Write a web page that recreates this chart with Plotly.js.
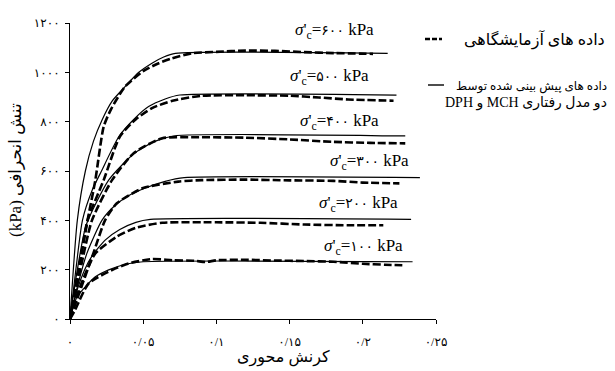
<!DOCTYPE html>
<html>
<head>
<meta charset="utf-8">
<script src="https://cdn.plot.ly/plotly-3.0.1.min.js"></script>
<style>html,body{margin:0;padding:0;background:#fff;}#chart{width:615px;height:371px;}</style>
</head>
<body>
<div id="chart"></div>
<script>
// ---- data (axial strain, deviatoric stress kPa) ----
const xTickVals = [0, 0.05, 0.1, 0.15, 0.2, 0.25];
const xTickText = ["۰", "۰/۰۵", "۰/۱", "۰/۱۵", "۰/۲", "۰/۲۵"];
const yTickVals = [0, 200, 400, 600, 800, 1000, 1200];
const yTickText = ["۰", "۲۰۰", "۴۰۰", "۶۰۰", "۸۰۰", "۱۰۰۰", "۱۲۰۰"];

const pred600x = [0, 0.005, 0.0105, 0.016, 0.0219, 0.029, 0.0376, 0.047, 0.056, 0.064, 0.072, 0.217];
const pred600y = [0, 400, 600, 720, 807, 885, 942, 1000, 1037, 1062, 1077, 1077];
const exp600x = [0, 0.006, 0.012, 0.0173, 0.023, 0.028, 0.0376, 0.05, 0.0606, 0.0697, 0.083, 0.1, 0.12, 0.14, 0.16, 0.18, 0.207];
const exp600y = [0, 200, 400, 563, 780, 850, 942, 1005, 1037, 1057, 1077, 1083, 1088, 1087, 1082, 1078, 1075];

const pred500x = [0, 0.004, 0.0085, 0.015, 0.0215, 0.0333, 0.0437, 0.0537, 0.065, 0.075, 0.223];
const pred500y = [0, 200, 400, 520, 600, 739, 810, 861, 892, 908, 908];
const exp500x = [0, 0.006, 0.012, 0.023, 0.034, 0.045, 0.056, 0.07, 0.09, 0.12, 0.15, 0.17, 0.19, 0.221];
const exp500y = [0, 200, 400, 563, 739, 810, 855, 885, 905, 907, 905, 898, 890, 885];

const pred400x = [0, 0.005, 0.011, 0.0264, 0.044, 0.058, 0.0708, 0.229];
const pred400y = [0, 200, 380, 563, 672, 720, 742, 742];
const exp400x = [0, 0.007, 0.015, 0.0287, 0.0435, 0.063, 0.085, 0.12, 0.15, 0.18, 0.205, 0.229];
const exp400y = [0, 200, 400, 563, 672, 733, 737, 735, 728, 718, 714, 712];

const pred300x = [0, 0.005, 0.0116, 0.0219, 0.0307, 0.04, 0.0515, 0.065, 0.078, 0.239];
const pred300y = [0, 130, 267, 401, 460, 500, 531, 558, 573, 573];
const exp300x = [0, 0.006, 0.016, 0.024, 0.032, 0.05, 0.074, 0.09, 0.12, 0.15, 0.18, 0.2, 0.225];
const exp300y = [0, 100, 267, 401, 469, 531, 557, 563, 565, 562, 560, 553, 550];

const pred200x = [0, 0.005, 0.01, 0.015, 0.024, 0.034, 0.045, 0.0549, 0.233];
const pred200y = [0, 120, 200, 255, 320, 363, 392, 404, 404];
const exp200x = [0, 0.005, 0.0116, 0.0173, 0.032, 0.045, 0.063, 0.1, 0.13, 0.16, 0.19, 0.214];
const exp200y = [0, 100, 199, 266, 334, 370, 390, 392, 390, 383, 380, 380];

const pred100x = [0, 0.0048, 0.012, 0.0173, 0.0264, 0.038, 0.05, 0.234];
const pred100y = [0, 90, 140, 171, 199, 222, 232, 232];
const exp100x = [0, 0.0034, 0.0128, 0.029, 0.04, 0.056, 0.07, 0.085, 0.093, 0.1, 0.12, 0.14, 0.16, 0.18, 0.2, 0.215, 0.227];
const exp100y = [0, 36, 145, 199, 225, 243, 238, 236, 231, 238, 240, 237, 235, 232, 224, 220, 218];

const labels = ["۶۰۰", "۵۰۰", "۴۰۰", "۳۰۰", "۲۰۰", "۱۰۰"];
const labelX = [0.152, 0.149, 0.156, 0.176, 0.169, 0.172];
const labelY = [1168, 981, 799, 636, 466, 292];

const expName = "داده های آزمایشگاهی";
const predName1 = "داده های پیش بینی شده توسط";
const predName2 = "\u202Bدو مدل رفتاری MCH و DPH\u202C";
const xTitle = "کرنش محوری";
const yTitle = "(kPa) تنش انحرافی";

// ---- traces ----
const FONT = "Liberation Serif, Times New Roman, DejaVu Sans, serif";
const preds = [[pred600x,pred600y],[pred500x,pred500y],[pred400x,pred400y],[pred300x,pred300y],[pred200x,pred200y],[pred100x,pred100y]];
const exps = [[exp600x,exp600y],[exp500x,exp500y],[exp400x,exp400y],[exp300x,exp300y],[exp200x,exp200y],[exp100x,exp100y]];
const traces = [];
preds.forEach(p => traces.push({x:p[0], y:p[1], mode:'lines', line:{color:'#000', width:1.2, shape:'spline', smoothing:0.6}, showlegend:false, hoverinfo:'skip'}));
exps.forEach(p => traces.push({x:p[0], y:p[1], mode:'lines', line:{color:'#000', width:2.6, dash:'8px,3px', shape:'spline', smoothing:0.6}, showlegend:false, hoverinfo:'skip'}));

// pixel helpers for layout positions (plot area 70..436 x, 23..319 y)
const L = 70, R = 436, T = 23, B = 319;
const px = v => (v - L) / (R - L);
const py = v => (B - v) / (B - T);

const annotations = labels.map((t, i) => ({
  x: labelX[i], y: labelY[i], xref:'x', yref:'y', xanchor:'left', yanchor:'middle', showarrow:false,
  text: "<i>σ</i>'<sub>c</sub>=<span style=\"font-size:14px\">" + t + "</span> kPa", font:{family:FONT, size:17, color:'#000'}
}));
annotations.push({x:px(283), y:py(357), xref:'paper', yref:'paper', xanchor:'center', yanchor:'middle', showarrow:false, text:xTitle, font:{family:FONT, size:16, color:'#000'}});
annotations.push({x:px(15), y:py(170), xref:'paper', yref:'paper', xanchor:'center', yanchor:'middle', showarrow:false, textangle:-90, text:yTitle, font:{family:FONT, size:17, color:'#000'}});
annotations.push({x:px(607), y:py(40), xref:'paper', yref:'paper', xanchor:'right', yanchor:'middle', showarrow:false, text:expName, font:{family:FONT, size:16, color:'#000'}});
annotations.push({x:px(609), y:py(86), xref:'paper', yref:'paper', xanchor:'right', yanchor:'middle', showarrow:false, text:predName1, font:{family:FONT, size:12, color:'#000'}});
annotations.push({x:px(609), y:py(103), xref:'paper', yref:'paper', xanchor:'right', yanchor:'middle', showarrow:false, text:predName2, font:{family:FONT, size:14, color:'#000'}});

const shapes = [
  {type:'line', xref:'paper', yref:'paper', x0:px(425), x1:px(442), y0:py(39), y1:py(39), line:{color:'#000', width:2.6, dash:'5px,2px'}},
  {type:'line', xref:'paper', yref:'paper', x0:px(428), x1:px(444), y0:py(85), y1:py(85), line:{color:'#000', width:1.4}}
];

const layout = {
  width:615, height:371,
  margin:{l:L, r:615-R, t:T, b:371-B, pad:0},
  paper_bgcolor:'#fff', plot_bgcolor:'#fff',
  font:{family:FONT, size:12, color:'#000'},
  showlegend:false,
  xaxis:{range:[0,0.25], tickvals:xTickVals, ticktext:xTickText, showline:true, linecolor:'#000', linewidth:1,
         ticks:'outside', ticklen:4, tickcolor:'#000', showgrid:false, zeroline:false, ticklabelstandoff:8,
         tickfont:{family:FONT, size:12, color:'#000'}, fixedrange:true},
  yaxis:{range:[0,1200], tickvals:yTickVals, ticktext:yTickText, showline:true, linecolor:'#000', linewidth:1,
         ticks:'outside', ticklen:4, tickcolor:'#000', showgrid:false, zeroline:false, ticklabelstandoff:3,
         tickfont:{family:FONT, size:12, color:'#000'}, fixedrange:true},
  annotations:annotations,
  shapes:shapes
};

Plotly.newPlot('chart', traces, layout, {staticPlot:true, displayModeBar:false});
</script>
</body>
</html>
